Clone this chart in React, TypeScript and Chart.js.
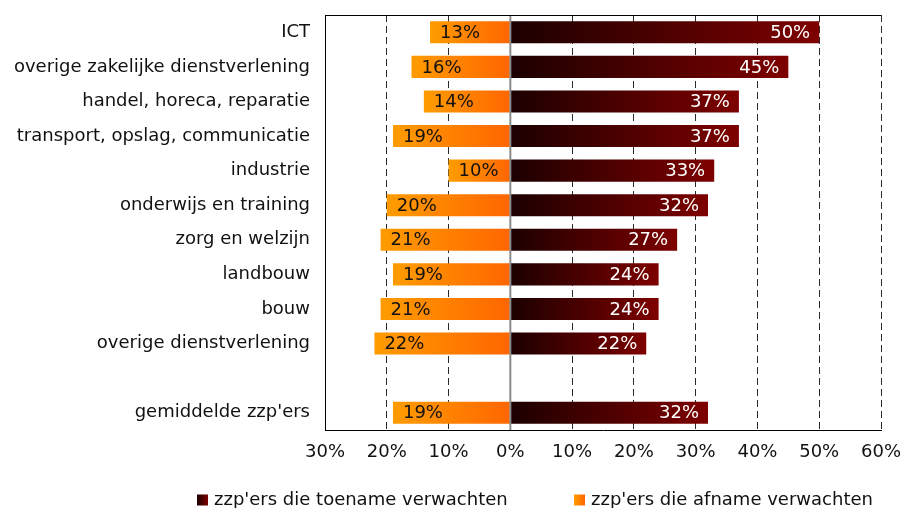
import React, { useEffect, useRef } from "react";
import { Chart, registerables } from "chart.js";

Chart.register(...registerables);

const categories = [
  "ICT",
  "overige zakelijke dienstverlening",
  "handel, horeca, reparatie",
  "transport, opslag, communicatie",
  "industrie",
  "onderwijs en training",
  "zorg en welzijn",
  "landbouw",
  "bouw",
  "overige dienstverlening",
  "",
  "gemiddelde zzp'ers",
];

const toename: (number | null)[] = [50, 45, 37, 37, 33, 32, 27, 24, 24, 22, null, 32];
const afname: (number | null)[] = [13, 16, 14, 19, 10, 20, 21, 19, 21, 22, null, 19];

const toenameLabel = "zzp'ers die toename verwachten";
const afnameLabel = "zzp'ers die afname verwachten";

const xMin = -30;
const xMax = 60;
const xStep = 10;

const FONT = "'DejaVu Sans', Verdana, sans-serif";
const DARK_START = "#1c0000";
const DARK_END = "#7e0000";
const ORANGE_OUTER = "#ff9c00";
const ORANGE_INNER = "#ff6600";

function gradientFor(ctx: any, leftColor: string, rightColor: string) {
  const chart = ctx.chart;
  const v = ctx.raw;
  const xs = chart.scales && chart.scales.x;
  if (!chart.chartArea || v == null || !xs) return leftColor;
  const p0 = xs.getPixelForValue(0);
  const p1 = xs.getPixelForValue(v);
  const a = Math.min(p0, p1);
  const b = Math.max(p0, p1);
  if (b - a < 1) return leftColor;
  const g = chart.ctx.createLinearGradient(a, 0, b, 0);
  g.addColorStop(0, leftColor);
  g.addColorStop(1, rightColor);
  return g;
}

function zeroPadding(scale: any) {
  scale.paddingTop = 0;
  scale.paddingBottom = 0;
  scale.paddingLeft = 0;
  scale.paddingRight = 0;
}

const overlayPlugin = {
  id: "overlay",
  afterDatasetsDraw(chart: any) {
    const { ctx, chartArea } = chart;
    const xs = chart.scales.x;
    const z = xs.getPixelForValue(0);
    ctx.save();
    ctx.strokeStyle = "#8a8a8a";
    ctx.lineWidth = 2;
    ctx.beginPath();
    ctx.moveTo(z, chartArea.top);
    ctx.lineTo(z, chartArea.bottom);
    ctx.stroke();
    ctx.strokeStyle = "#000";
    ctx.lineWidth = 1;
    ctx.beginPath();
    ctx.moveTo(chartArea.left, chartArea.top + 0.5);
    ctx.lineTo(chartArea.right, chartArea.top + 0.5);
    ctx.stroke();

    ctx.font = `18px ${FONT}`;
    ctx.textBaseline = "middle";
    const m0 = chart.getDatasetMeta(0);
    m0.data.forEach((bar: any, i: number) => {
      const v = toename[i];
      if (v == null) return;
      ctx.fillStyle = "#ffffff";
      ctx.textAlign = "right";
      ctx.fillText(`${v}%`, bar.x - 9, bar.y + 1);
    });
    const m1 = chart.getDatasetMeta(1);
    m1.data.forEach((bar: any, i: number) => {
      const v = afname[i];
      if (v == null) return;
      ctx.fillStyle = "#111111";
      ctx.textAlign = "left";
      ctx.fillText(`${v}%`, bar.x + 10, bar.y + 1);
    });
    ctx.restore();
  },
  afterDraw(chart: any) {
    const { ctx } = chart;
    const items = [
      { label: toenameLabel, x: 197, left: DARK_START, right: DARK_END },
      { label: afnameLabel, x: 574, left: ORANGE_OUTER, right: ORANGE_INNER },
    ];
    const y = 500;
    const size = 11;
    ctx.save();
    ctx.font = `18px ${FONT}`;
    ctx.textBaseline = "middle";
    ctx.textAlign = "left";
    items.forEach((it) => {
      const g = ctx.createLinearGradient(it.x, 0, it.x + size, 0);
      g.addColorStop(0, it.left);
      g.addColorStop(1, it.right);
      ctx.fillStyle = g;
      ctx.fillRect(it.x, y - size / 2, size, size);
      ctx.fillStyle = "#111";
      ctx.fillText(it.label, it.x + 17, y);
    });
    ctx.restore();
  },
};

export default function App() {
  const canvasRef = useRef<HTMLCanvasElement | null>(null);

  useEffect(() => {
    if (!canvasRef.current) return;
    Chart.defaults.font.family = FONT;
    const chart = new Chart(canvasRef.current, {
      type: "bar",
      data: {
        labels: categories,
        datasets: [
          {
            label: toenameLabel,
            data: toename,
            backgroundColor: (c: any) => gradientFor(c, DARK_START, DARK_END),
            borderWidth: 0,
            barPercentage: 0.64,
            categoryPercentage: 1,
          },
          {
            label: afnameLabel,
            data: afname.map((v) => (v == null ? null : -v)),
            backgroundColor: (c: any) => gradientFor(c, ORANGE_OUTER, ORANGE_INNER),
            borderWidth: 0,
            barPercentage: 0.64,
            categoryPercentage: 1,
          },
        ],
      },
      options: {
        indexAxis: "y",
        animation: false,
        responsive: true,
        maintainAspectRatio: false,
        layout: { padding: { left: 0, right: 20, top: 15, bottom: 0 } },
        plugins: {
          legend: { display: false },
          tooltip: { enabled: false },
        },
        scales: {
          x: {
            type: "linear",
            stacked: true,
            min: xMin,
            max: xMax,
            ticks: {
              stepSize: xStep,
              color: "#111",
              font: { size: 18, family: FONT },
              padding: 12,
              maxRotation: 0,
              callback: (v: any) => `${Math.abs(Number(v))}%`,
            },
            grid: {
              drawTicks: false,
              color: (c: any) => {
                const v = c.tick ? c.tick.value : null;
                if (v === 0 || v === xMin) return "rgba(0,0,0,0)";
                return "#2a2a2a";
              },
              lineWidth: 1,
            },
            border: {
              display: true,
              color: "#000",
              width: 1,
              dash: (c: any) => (c.tick ? [7, 4] : []),
            },
            afterFit: (scale: any) => {
              scale.height = 78;
              zeroPadding(scale);
            },
          },
          y: {
            stacked: true,
            ticks: {
              color: "#111",
              font: { size: 18, family: FONT },
              padding: 15,
              autoSkip: false,
            },
            grid: { display: false, drawTicks: false },
            border: { display: true, color: "#000", width: 1 },
            afterFit: (scale: any) => {
              scale.width = 325;
              zeroPadding(scale);
            },
          },
        },
      } as any,
      plugins: [overlayPlugin],
    });
    return () => chart.destroy();
  }, []);

  return (
    <div style={{ position: "fixed", left: 0, top: 0, width: 901, height: 508, background: "#fff" }}>
      <canvas ref={canvasRef} />
    </div>
  );
}
